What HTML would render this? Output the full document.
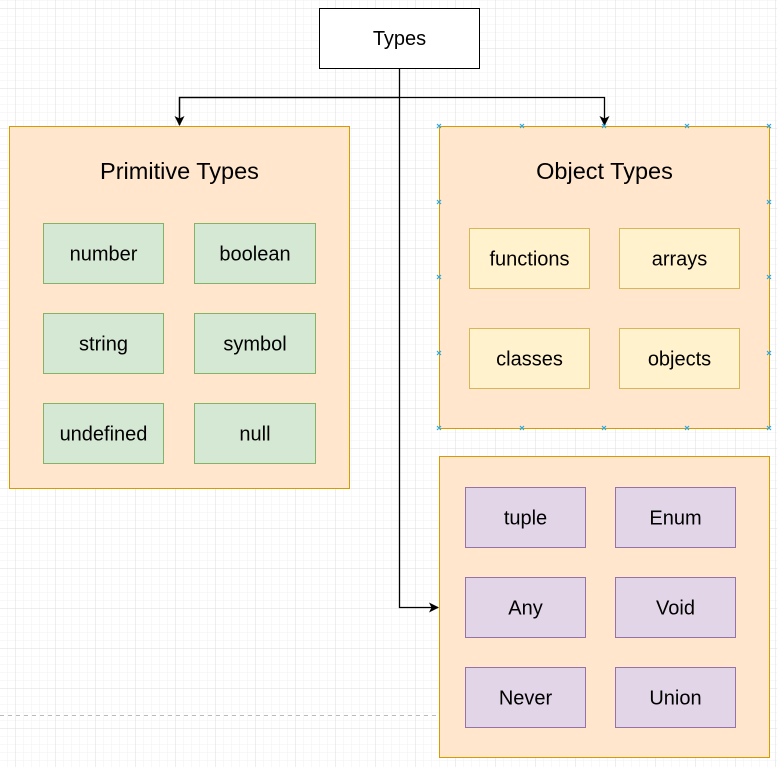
<!DOCTYPE html>
<html><head><meta charset="utf-8"><style>
html,body{margin:0;padding:0;background:#fff}
svg{display:block}
text{font-family:"Liberation Sans",Arial,sans-serif;fill:#000;text-anchor:middle;dominant-baseline:central}
</style></head><body>
<svg width="777" height="767" viewBox="0 0 777 767" xmlns="http://www.w3.org/2000/svg">
<defs>
<pattern id="minor" x="7" y="0" width="8" height="8" patternUnits="userSpaceOnUse">
<path d="M0 0H8M0 0V8" stroke="#f0f0f0" stroke-width="1" fill="none"/>
</pattern>
<pattern id="major" x="15" y="8" width="40" height="40" patternUnits="userSpaceOnUse">
<path d="M0 0H40M0 0V40" stroke="#dedede" stroke-width="1" fill="none"/>
</pattern>
<marker id="ar" markerWidth="12" markerHeight="12" refX="9" refY="5" orient="auto" markerUnits="userSpaceOnUse">
<path d="M0 0L10 5L0 10L2.5 5Z" fill="#000"/>
</marker>
</defs>
<rect width="777" height="767" fill="url(#minor)"/>
<rect width="777" height="767" fill="url(#major)"/>
<line x1="0" y1="715.5" x2="439" y2="715.5" stroke="#bbb" stroke-dasharray="4 4"/>

<rect x="319.5" y="8.5" width="160" height="60" fill="#fff" stroke="#000"/>
<text x="399.5" y="39" font-size="20">Types</text>

<path d="M399.5 68V607.5H438" fill="none" stroke="#000" stroke-width="1.3" marker-end="url(#ar)"/>
<path d="M179.5 125V97.5H604.5V125" fill="none" stroke="#000" stroke-width="1.3" marker-end="url(#ar)"/>
<path d="M399.5 97.5H179.5V125" fill="none" stroke="#000" stroke-width="1.3" marker-end="url(#ar)"/>

<rect x="9.5" y="126.5" width="340" height="362" fill="#ffe6cc" stroke="#d79b00"/>
<text x="179.5" y="171" font-size="23.5">Primitive Types</text>
<g stroke="#82b366" fill="#d5e8d4">
<rect x="43.5" y="223.5" width="120" height="60"/><rect x="194.5" y="223.5" width="121" height="60"/>
<rect x="43.5" y="313.5" width="120" height="60"/><rect x="194.5" y="313.5" width="121" height="60"/>
<rect x="43.5" y="403.5" width="120" height="60"/><rect x="194.5" y="403.5" width="121" height="60"/>
</g>
<g font-size="20">
<text x="103.5" y="254.5">number</text><text x="255" y="254.5">boolean</text>
<text x="103.5" y="344.5">string</text><text x="255" y="344.5">symbol</text>
<text x="103.5" y="434.5">undefined</text><text x="255" y="434.5">null</text>
</g>

<rect x="439.5" y="126.5" width="330" height="302" fill="#ffe6cc" stroke="#d79b00"/>
<text x="604.5" y="171" font-size="23.5">Object Types</text>
<g stroke="#d6b656" fill="#fff2cc">
<rect x="469.5" y="228.5" width="120" height="60"/><rect x="619.5" y="228.5" width="120" height="60"/>
<rect x="469.5" y="328.5" width="120" height="60"/><rect x="619.5" y="328.5" width="120" height="60"/>
</g>
<g font-size="20">
<text x="529.5" y="259.5">functions</text><text x="679.5" y="259.5">arrays</text>
<text x="529.5" y="359.5">classes</text><text x="679.5" y="359.5">objects</text>
</g>
<g stroke="#29a8e0" stroke-width="1.2">
<path d="M437 124l4 4M441 124l-4 4 M520 124l4 4M524 124l-4 4 M602 124l4 4M606 124l-4 4 M685 124l4 4M689 124l-4 4 M767 124l4 4M771 124l-4 4"/>
<path d="M437 426l4 4M441 426l-4 4 M520 426l4 4M524 426l-4 4 M602 426l4 4M606 426l-4 4 M685 426l4 4M689 426l-4 4 M767 426l4 4M771 426l-4 4"/>
<path d="M437 200l4 4M441 200l-4 4 M437 275l4 4M441 275l-4 4 M437 351l4 4M441 351l-4 4"/>
<path d="M767 200l4 4M771 200l-4 4 M767 275l4 4M771 275l-4 4 M767 351l4 4M771 351l-4 4"/>
</g>

<rect x="439.5" y="456.5" width="330" height="301" fill="#ffe6cc" stroke="#d79b00"/>
<g stroke="#9673a6" fill="#e1d5e7">
<rect x="465.5" y="487.5" width="120" height="60"/><rect x="615.5" y="487.5" width="120" height="60"/>
<rect x="465.5" y="577.5" width="120" height="60"/><rect x="615.5" y="577.5" width="120" height="60"/>
<rect x="465.5" y="667.5" width="120" height="60"/><rect x="615.5" y="667.5" width="120" height="60"/>
</g>
<g font-size="20">
<text x="525.5" y="518.5">tuple</text><text x="675.5" y="518.5">Enum</text>
<text x="525.5" y="608.5">Any</text><text x="675.5" y="608.5">Void</text>
<text x="525.5" y="698.5">Never</text><text x="675.5" y="698.5">Union</text>
</g>
</svg>
</body></html>
